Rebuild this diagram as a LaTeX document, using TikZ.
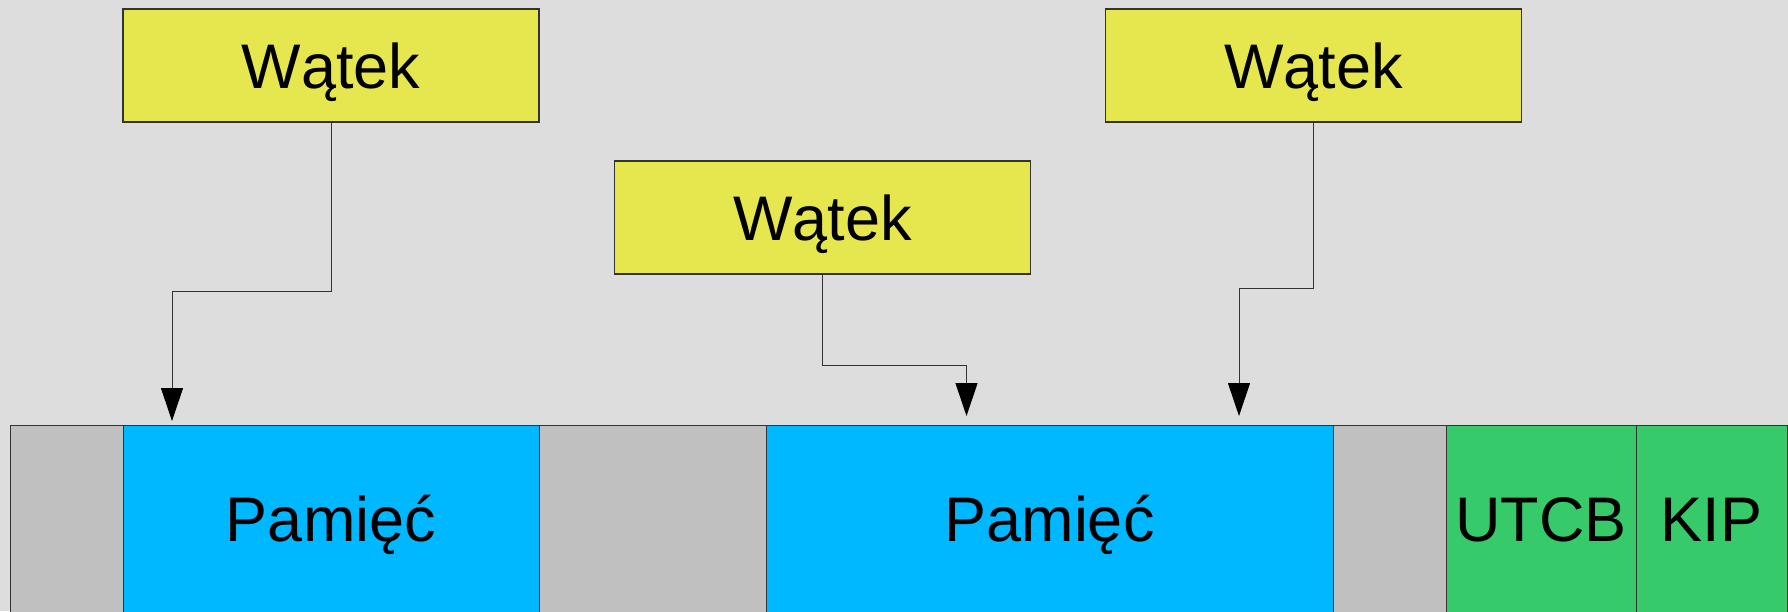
\documentclass[tikz,border=0pt]{standalone}
\usepackage{fontspec}
\setmainfont{Liberation Sans}
\usetikzlibrary{arrows.meta}
\definecolor{bg}{HTML}{DDDDDD}
\definecolor{thr}{HTML}{E6E64E}
\definecolor{mem}{HTML}{00B8FF}
\definecolor{grn}{HTML}{36CA6A}
\definecolor{gry}{HTML}{C0C0C0}
\definecolor{edge}{HTML}{333333}
\begin{document}
\begin{tikzpicture}[x=0.5pt,y=-0.5pt,
  box/.style={draw=edge, line width=0.6pt, inner sep=0pt, text=black,
    font=\fontsize{31.5}{38}\selectfont, text height=22.6pt, text depth=0pt},
  thread/.style={box, fill=thr, minimum width=208pt, minimum height=56.5pt},
  seg/.style={box, minimum height=94pt, line width=0.5pt},
  arr/.style={draw=edge, line width=0.5pt,
    -{Triangle[length=16.5pt,width=11pt,color=black]}}]
\useasboundingbox[fill=bg] (0,0) rectangle (1788,611);

% memory bar
\node[seg, fill=gry, minimum width=56.5pt]  (g1) at (66.5,519) {};
\node[seg, fill=mem, minimum width=208pt]   (p1) at (331,519) {Pamięć};
\node[seg, fill=gry, minimum width=113.5pt] (g2) at (652.5,519) {};
\node[seg, fill=mem, minimum width=283.5pt] (p2) at (1049.5,519) {Pamięć};
\node[seg, fill=gry, minimum width=56.5pt]  (g3) at (1389.5,519) {};
\node[seg, fill=grn, minimum width=95pt]    (u)  at (1541,519) {UTCB};
\node[seg, fill=grn, minimum width=75.5pt]  (k)  at (1711.5,519) {KIP};

% threads
\node[thread] (w1) at (331,65.5) {Wątek};
\node[thread] (w2) at (822.5,217.5) {Wątek};
\node[thread] (w3) at (1313.5,65.5) {Wątek};

% connector coordinates
\coordinate (m1) at (172,291);
\coordinate (t1) at (172,421);
\coordinate (m2) at (966.5,365);
\coordinate (t2) at (966.5,416);
\coordinate (m3) at (1239,288);
\coordinate (t3) at (1239,416);

\draw[arr] (w1.south) |- (m1) -- (t1);
\draw[arr] (w2.south) |- (m2) -- (t2);
\draw[arr] (w3.south) |- (m3) -- (t3);
\end{tikzpicture}
\end{document}
